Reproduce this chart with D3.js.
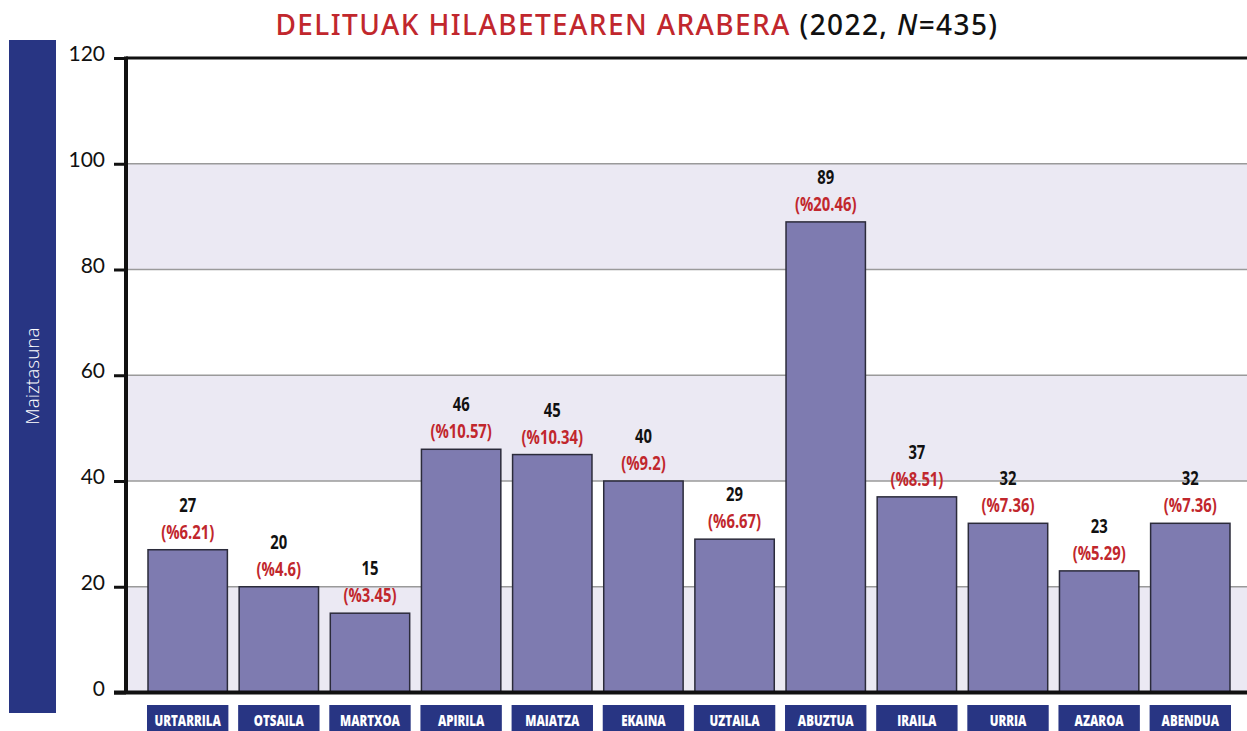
<!DOCTYPE html>
<html>
<head>
<meta charset="UTF-8">
<style>
  body { margin: 0; background: #fff; }
  .tick text { font: 400 21px Lato, "Open Sans", sans-serif; fill: #111; }
  .num { font-family: "Open Sans", "DejaVu Sans", sans-serif; font-weight: bold; font-size: 19px; fill: #111; text-anchor: middle; }
  .pct { font-family: "Open Sans", "DejaVu Sans", sans-serif; font-weight: bold; font-size: 19px; fill: #c1272d; text-anchor: middle; }
  .cat { font-family: "Open Sans", "DejaVu Sans", sans-serif; font-weight: 800; font-size: 16px; fill: #fff; text-anchor: middle; }
</style>
</head>
<body>
<script src="https://cdn.jsdelivr.net/npm/d3@7"></script>
<script>
// hilabeteak eta balioak
var months = ["URTARRILA", "OTSAILA", "MARTXOA", "APIRILA", "MAIATZA", "EKAINA",
              "UZTAILA", "ABUZTUA", "IRAILA", "URRIA", "AZAROA", "ABENDUA"];
var counts = [27, 20, 15, 46, 45, 40, 29, 89, 37, 32, 23, 32];
var percents = ["6.21", "4.6", "3.45", "10.57", "10.34", "9.2", "6.67", "20.46", "8.51", "7.36", "5.29", "7.36"];
var yTicks = [0, 20, 40, 60, 80, 100, 120];

var width = 1247, height = 731;
var plotLeft = 126, plotRight = 1247, plotTop = 58, plotBottom = 692.5;
var squeeze = 0.78; // letra estuak imitatzeko

var svg = d3.select("body").append("svg")
    .attr("width", width)
    .attr("height", height);

var x = d3.scaleBand()
    .domain(months)
    .range([148, 1230])
    .paddingInner(0.129)
    .paddingOuter(0);

var y = d3.scaleLinear()
    .domain([0, 120])
    .range([plotBottom, plotTop]);

function cx(i) { return x(months[i]) + x.bandwidth() / 2; }

// atzeko bandak
var bands = d3.range(0, 120, 20);
svg.selectAll(".band")
    .data(bands)
    .enter().append("rect")
    .attr("x", plotLeft)
    .attr("width", plotRight - plotLeft)
    .attr("y", function(d) { return y(d + 20); })
    .attr("height", function(d) { return y(d) - y(d + 20); })
    .attr("fill", function(d, i) { return i % 2 == 0 ? "#ebe9f3" : "#ffffff"; });

// grid lerroak
svg.selectAll(".grid")
    .data(yTicks.slice(1, -1))
    .enter().append("line")
    .attr("x1", plotLeft).attr("x2", plotRight)
    .attr("y1", function(d) { return y(d); })
    .attr("y2", function(d) { return y(d); })
    .attr("stroke", "#9a9a9a")
    .attr("stroke-width", 1.5);

// goiko lerroa
svg.append("line")
    .attr("x1", plotLeft).attr("x2", plotRight)
    .attr("y1", y(120)).attr("y2", y(120))
    .attr("stroke", "#111").attr("stroke-width", 3);

// barrak
svg.selectAll(".bar")
    .data(counts)
    .enter().append("rect")
    .attr("x", function(d, i) { return x(months[i]); })
    .attr("width", x.bandwidth())
    .attr("y", function(d) { return y(d); })
    .attr("height", function(d) { return y(0) - y(d); })
    .attr("fill", "#7e7bb0")
    .attr("stroke", "#2b2b3a")
    .attr("stroke-width", 1.5);

// etiketak
svg.selectAll(".num")
    .data(counts)
    .enter().append("text")
    .attr("class", "num")
    .attr("transform", function(d, i) { return "translate(" + cx(i) + "," + (y(d) - 38) + ") scale(" + squeeze + ",1)"; })
    .text(function(d) { return d; });

svg.selectAll(".pct")
    .data(counts)
    .enter().append("text")
    .attr("class", "pct")
    .attr("transform", function(d, i) { return "translate(" + cx(i) + "," + (y(d) - 11) + ") scale(" + squeeze + ",1)"; })
    .text(function(d, i) { return "(%" + percents[i] + ")"; });

// Y ardatza
var yAxis = svg.append("g")
    .attr("class", "y axis")
    .attr("transform", "translate(" + plotLeft + ",0)")
    .call(d3.axisLeft(y).tickValues(yTicks).tickSize(12).tickPadding(9));
yAxis.select(".domain").remove();
yAxis.selectAll(".tick line").attr("stroke", "#111").attr("stroke-width", 3);
yAxis.selectAll(".tick text").attr("dy", "0.12em");

svg.append("line")
    .attr("x1", plotLeft).attr("x2", plotLeft)
    .attr("y1", plotTop - 1.5).attr("y2", plotBottom + 1.5)
    .attr("stroke", "#111").attr("stroke-width", 4);

svg.append("line")
    .attr("x1", plotLeft - 12).attr("x2", plotRight)
    .attr("y1", plotBottom).attr("y2", plotBottom)
    .attr("stroke", "#111").attr("stroke-width", 4);

// kategoria kutxak
var cats = svg.selectAll(".catg")
    .data(months)
    .enter().append("g");
cats.append("rect")
    .attr("x", function(d) { return x(d) - 1; })
    .attr("y", 705)
    .attr("width", x.bandwidth() + 2)
    .attr("height", 30)
    .attr("fill", "#283583");
cats.append("text")
    .attr("class", "cat")
    .attr("transform", function(d, i) { return "translate(" + cx(i) + ",726) scale(0.72,1)"; })
    .text(function(d) { return d; });

// ezkerreko banda
svg.append("rect")
    .attr("x", 9).attr("y", 40)
    .attr("width", 47).attr("height", 673)
    .attr("fill", "#283583");
svg.append("text")
    .attr("transform", "translate(39,376) rotate(-90)")
    .attr("text-anchor", "middle")
    .style("font", "300 19px 'Open Sans', Lato, sans-serif")
    .style("fill", "#fff")
    .text("Maiztasuna");

// izenburua
var title = svg.append("text")
    .attr("x", 637).attr("y", 35)
    .attr("text-anchor", "middle")
    .style("font", "500 28px 'Noto Sans', 'Open Sans', sans-serif")
    .style("letter-spacing", "1.4px");
title.append("tspan").attr("fill", "#c1272d").text("DELITUAK HILABETEAREN ARABERA");
title.append("tspan").attr("fill", "#111").text(" (2022, ");
title.append("tspan").attr("fill", "#111").style("font-style", "italic").text("N");
title.append("tspan").attr("fill", "#111").text("=435)");
</script>
</body>
</html>
